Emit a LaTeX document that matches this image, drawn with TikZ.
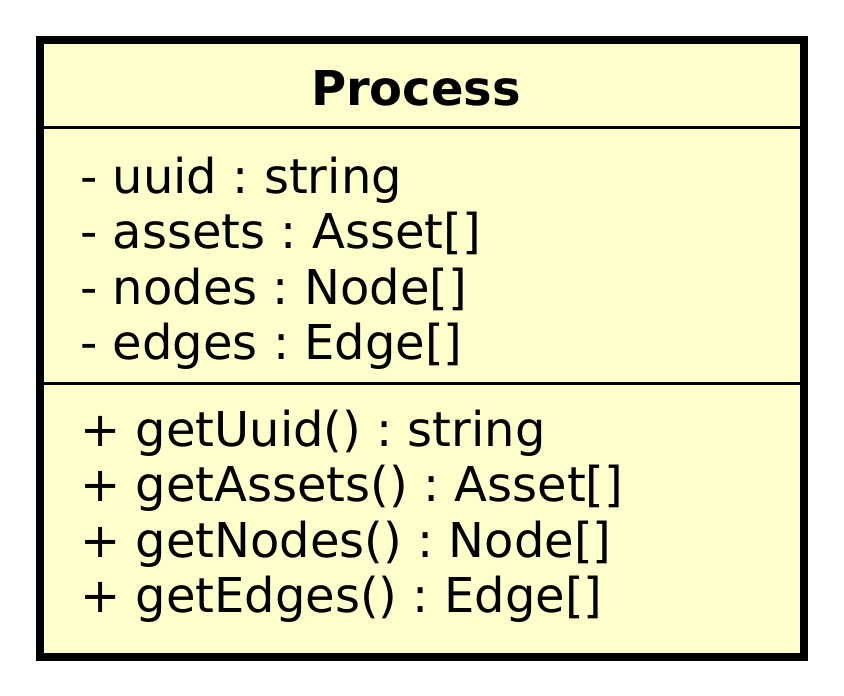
\documentclass[tikz,border=0pt]{standalone}
\usepackage{fontspec}
\setmainfont{DejaVu Sans}
\definecolor{classfill}{HTML}{FFFFCC}
\frenchspacing
\begin{document}
\begin{tikzpicture}[x=1pt,y=-1pt,
  member/.style={anchor=base west,inner sep=0pt,font=\fontsize{48}{58}\selectfont},
  titletext/.style={anchor=base,inner sep=0pt,font=\fontsize{48}{58}\selectfont\bfseries},
  classbox/.style={draw=black,line width=7.7pt,fill=classfill,inner sep=0pt,minimum width=764pt,minimum height=617pt},
  sepline/.style={draw=black,line width=3pt}]
\useasboundingbox (0,0) rectangle (844,696);
\node[classbox] (box) at (422,348.5) {};
\node[titletext] (title) at (416,105) {Process};
\coordinate (s1) at (40,127.5);
\coordinate (s2) at (40,383);
\draw[sepline] (s1 -| box.west) -- (s1 -| box.east);
\draw[sepline] (s2 -| box.west) -- (s2 -| box.east);
\node[member] (a1) at (80,193) {- uuid : string};
\node[member] (a2) at (80,248.5) {- assets : Asset[]};
\node[member] (a3) at (80,304) {- nodes : Node[]};
\node[member] (a4) at (80,359.5) {- edges : Edge[]};
\node[member] (m1) at (80,446) {+ getUuid() : string};
\node[member] (m2) at (80,501.5) {+ getAssets() : Asset[]};
\node[member] (m3) at (80,557) {+ getNodes() : Node[]};
\node[member] (m4) at (80,612.5) {+ getEdges() : Edge[]};
\end{tikzpicture}
\end{document}
